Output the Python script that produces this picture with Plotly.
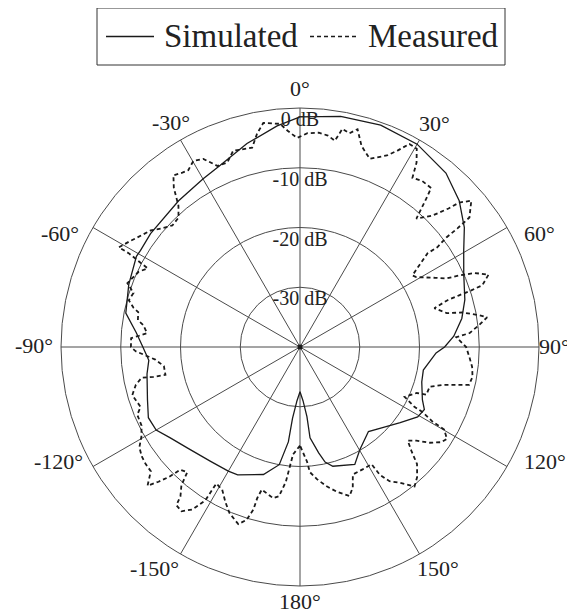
import math
import plotly.graph_objects as go

# Simulated pattern (angle in degrees, gain in dB)
sim_theta = [-180, -176.8, -174, -173, -170, -164, -154, -150, -142, -132, -125, -120, -115, -109,
             -100, -95, -90, -85, -79, -70, -61, -58.8, -52.8, -39.7, -29.9, -23.7, -14.6, -5.9,
             0, 10, 20, 30, 40, 47.4, 54, 59.5, 66, 74, 80, 86, 90, 92.5, 100.6, 106, 113.3, 116.7,
             120.7, 127, 134.3, 141, 149.8, 155, 164.6, 167.7, 170, 173.7, 174.3, 176.8, 180]
sim_db = [-32.5, -31, -28, -24, -20, -17.8, -16.2, -16, -15.7, -14.7, -13.5, -12.2, -12, -13,
          -14, -14.6, -13.7, -12.5, -10.3, -9.5, -8.7, -8.8, -8.6, -8.2, -7.5, -6.8, -4.8, -2.8,
          -1.5, -0.8, -0.5, -0.8, -2, -3.8, -6, -8.2, -10, -11.3, -12.5, -14.2, -15.8, -17.2, -19, -18.8, -17.7, -16.7,
          -17.1, -19, -20.7, -21.8, -20.1, -18.3, -19.3, -20.3, -22, -24.7, -28.3, -31, -32.5]

# Measured pattern (angle in degrees, gain in dB)
mea_theta = [-180, -176.3, -174, -172, -169.9, -165, -164.2, -164, -162.8, -160.8, -157, -154.3,
             -151.4, -148.5, -148.3, -146.5, -144.2, -142, -141.3, -139.4, -138, -135.7, -134.8,
             -133.6, -132.3, -129.8, -127, -124.7, -122, -119.5, -116.4, -112.6, -110.6, -106,
             -103, -101, -101.5, -101.7, -98, -95, -93, -91.5, -90, -87, -86, -84.8, -82, -80.6,
             -77.8, -76.8, -74.7, -72, -69.7, -65, -62.7, -61.3, -61.2, -58, -56.6, -52, -49.6,
             -46.4, -43.2, -40.7, -38.4, -36.4, -34, -32.3, -29.8, -27.2, -24.5, -21.5, -18.8,
             -13.5, -11.4, -9.3, -5.1, -3.2, -0.8, 2, 5, 7.5, 9.6, 11, 13, 14.8, 17, 20.3, 24.4,
             26.4, 28.3, 30.5, 32.3, 33.6, 36.4, 39.5, 40.4, 42.2, 45.2, 47, 47.8, 49.5, 52.6, 53,
             53.2, 54, 53.7, 55.6, 57.5, 59, 63, 64.9, 65.8, 67, 69, 71.3, 71.7, 72, 72.4, 73.9,
             77, 78, 80, 81, 83, 85.3, 86.4, 90, 93.4, 96.6, 99.8, 102.6, 103.5, 104.9, 107, 110.7,
             111.5, 115.5, 117.6, 118, 119.4, 119.8, 122, 124, 126.4, 128.8, 131, 133, 135, 138,
             140.6, 143.7, 146.3, 148, 148.6, 152.9, 157.5, 159.4, 161.6, 165.7, 169, 172.7,
             175.5, 176.5, 180]
mea_db = [-23.5, -22, -17.3, -14.8, -14.3, -15.3, -13.7, -11.7, -9.7, -8.6, -9.8, -11.2,
          -12.8, -13.2, -9.8, -7.4, -6.1, -6.4, -8, -9.5, -11.8, -11.3, -9.2,
          -7.3, -5.5, -7.5, -7.6, -7.8, -8.3, -9.5, -10.4, -10.5, -11.5, -10.8,
          -11.8, -13, -15, -17, -17, -15.7, -14, -12.5, -11.7, -11.7, -13, -14.3, -13.5, -12.5,
          -12.3, -11.4, -10.3, -10.7, -9.2, -10.2, -11.3, -7.3, -5.4, -6.5, -7, -8.3, -9.4,
          -10.5, -10.3, -8.8, -6, -4.3, -4.8, -5, -4.1, -4.6, -6.7, -6.8, -5.3,
          -5.7, -3.6, -2, -2.5, -3.8, -5, -4.2, -4, -4.3, -5, -2.8, -3.3, -2.3, -4.8, -6.4, -4.8,
          -3.3, -1.4, -1.5, -3.5, -6, -5.5, -5.5, -7.4, -11, -8.8, -6, -4, -2.3, -4.3, -7,
          -9.4, -11.6, -13.5, -15.8, -17.7, -17.3, -14.5, -13, -10.8, -8.3, -6.2, -7.8, -9.8, -12, -14.1, -16.6,
          -14.8, -12.2, -9.5, -8.3, -9.8, -11.5, -13.8, -12.2, -11.6, -11, -10.7, -11, -12.9, -15.3, -17.3, -17.4,
          -19, -20.6, -18.4, -16.7, -14.5, -12.2, -11, -11.5, -13, -15, -16.1, -14.5, -12.3, -10.7,
          -9.8, -11.8, -13, -14.8, -17, -17, -16.9, -14.9, -13.7, -15, -16.2, -17.7,
          -19, -20.8, -23.5]

ring_vals = [0, -10, -20, -30]
ring_text = ["0 dB", "-10 dB", "-20 dB", "-30 dB"]
angle_vals = [0, 30, 60, 90, 120, 150, 180, 210, 240, 270, 300, 330]
angle_text = ["0°", "30°", "60°", "90°", "120°", "150°", "180°", "-150°", "-120°", "-90°", "-60°", "-30°"]
series_names = ["Simulated", "Measured"]

# ---- layout / placement constants ----
FONT = "Liberation Serif, Times New Roman, serif"
INK = "#1a1a1a"
GRID = "#4a4a4a"
TXT = "#222"
W, H = 575, 613
OFF = 8                    # page body margin in the browser
CX, CY, RAD = 300, 347, 239  # polar centre and outer radius (page pixels)
R_MIN, R_MAX = -40, 0
RING_LABEL_DROP = 2.2      # dB below each ring where its label is centred
# where each angle label sits (direction, distance from centre as fraction of outer radius)
lbl_dir = [0, 31, 64.6, 90, 115, 148, 180, 213.3, 244.6, 270.4, 295.3, 330]
lbl_dist = [1.08, 1.093, 1.108, 1.066, 1.133, 1.093, 1.063, 1.108, 1.117, 1.115, 1.113, 1.083]


def px_x(px):
    return (px - OFF) / W


def px_y(py):
    return 1 - (py - OFF) / H


fig = go.Figure()
fig.add_trace(go.Scatterpolar(
    theta=sim_theta, r=sim_db, mode="lines", name=series_names[0],
    line=dict(color=INK, width=1.3), showlegend=False))
fig.add_trace(go.Scatterpolar(
    theta=mea_theta, r=mea_db, mode="lines", name=series_names[1],
    line=dict(color=INK, width=1.8, dash="4px,3px"), showlegend=False))
fig.add_trace(go.Scatterpolar(
    theta=[0] * len(ring_vals), r=[v - RING_LABEL_DROP for v in ring_vals], mode="text",
    text=ring_text, textposition="middle center",
    textfont=dict(family=FONT, size=20, color=TXT),
    showlegend=False, cliponaxis=False, hoverinfo="skip"))
fig.add_trace(go.Scatterpolar(
    theta=[0], r=[R_MIN], mode="markers", marker=dict(color=INK, size=5),
    showlegend=False, hoverinfo="skip"))

annotations = []
for txt, d, f in zip(angle_text, lbl_dir, lbl_dist):
    a = math.radians(d)
    x = CX + RAD * f * math.sin(a)
    y = CY - RAD * f * math.cos(a)
    annotations.append(dict(x=px_x(x), y=px_y(y), xref="paper", yref="paper", text=txt,
                            showarrow=False, xanchor="center", yanchor="middle",
                            font=dict(family=FONT, size=22, color=TXT)))

# legend box drawn to match the original key
LEG_Y = 36.5
shapes = [
    dict(type="rect", xref="paper", yref="paper", x0=px_x(97), x1=px_x(505),
         y0=px_y(65), y1=px_y(8), line=dict(color="#333", width=1), fillcolor="white"),
    dict(type="line", xref="paper", yref="paper", x0=px_x(106), x1=px_x(154),
         y0=px_y(LEG_Y), y1=px_y(LEG_Y), line=dict(color=INK, width=1.3)),
    dict(type="line", xref="paper", yref="paper", x0=px_x(310), x1=px_x(358),
         y0=px_y(LEG_Y), y1=px_y(LEG_Y), line=dict(color=INK, width=1.6, dash="4px,3px")),
]
for name, x0 in zip(series_names, [162, 366]):
    annotations.append(dict(x=px_x(x0), y=px_y(LEG_Y), xref="paper", yref="paper", text=name,
                            showarrow=False, xanchor="left", yanchor="middle",
                            font=dict(family=FONT, size=33, color=TXT)))

fig.update_layout(
    width=W, height=H,
    margin=dict(l=0, r=0, t=0, b=0),
    paper_bgcolor="white", plot_bgcolor="white",
    font=dict(family=FONT, color=TXT),
    showlegend=False,
    annotations=annotations,
    shapes=shapes,
    polar=dict(
        domain=dict(x=[px_x(CX - RAD), px_x(CX + RAD)],
                    y=[px_y(CY + RAD), px_y(CY - RAD)]),
        bgcolor="white",
        radialaxis=dict(range=[R_MIN, R_MAX], tickvals=[-30, -20, -10], showticklabels=False,
                        ticks="", showline=False, gridcolor=GRID, gridwidth=0.9, angle=90),
        angularaxis=dict(rotation=90, direction="clockwise", tickvals=angle_vals,
                         ticktext=angle_text, showticklabels=False, ticks="", showline=True,
                         linecolor=GRID, linewidth=1, gridcolor=GRID, gridwidth=0.9),
    ),
)

fig.write_html("out.html")
